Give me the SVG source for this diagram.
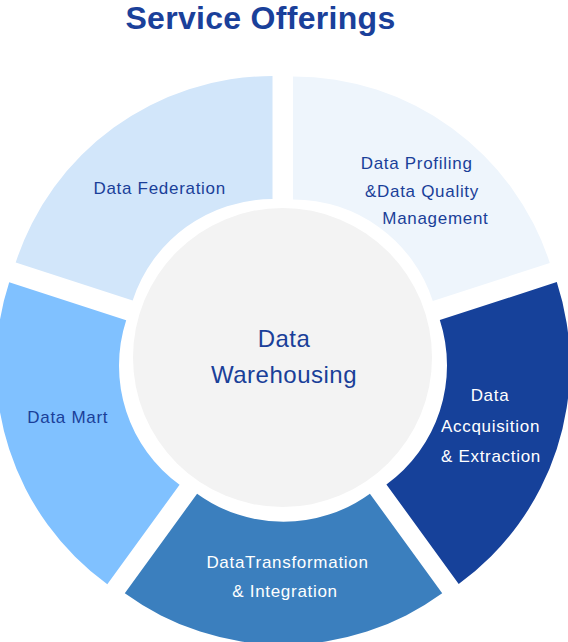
<svg xmlns="http://www.w3.org/2000/svg" width="568" height="642" viewBox="0 0 568 642">
<style>
.lbl{font-family:"Liberation Sans",Arial,sans-serif;font-size:17px;letter-spacing:0.7px}
.dark{fill:#1a3f99}
.light{fill:#ffffff}
.title{font-family:"Liberation Sans",Arial,sans-serif;font-size:32px;font-weight:bold;fill:#1a409a;letter-spacing:0.3px}
.center{font-family:"Liberation Sans",Arial,sans-serif;font-size:24px;letter-spacing:0.5px;fill:#1a3f99}
</style>
<rect width="568" height="642" fill="#ffffff"/>
<text class="title" x="260.5" y="29" text-anchor="middle">Service Offerings</text>
<g id="profiling">
<path d="M293,76.4 A270,270 0 0,1 549.79,262.97 L432.81,300.97 A147,147 0 0,0 293,199.4 Z" fill="#eef5fc"/>
<text class="lbl dark" x="360.7" y="169.3">Data Profiling</text>
<text class="lbl dark" x="365" y="196.7">&amp;Data Quality</text>
<text class="lbl dark" x="382.3" y="224">Management</text>
</g>
<g id="acquisition">
<path d="M556.79,282.07 A270,270 0 0,1 458.70,583.94 L386.41,484.43 A147,147 0 0,0 439.81,320.07 Z" fill="#16419a"/>
<text class="lbl light" x="490" y="400.7" text-anchor="middle">Data</text>
<text class="lbl light" x="490.5" y="431.7" text-anchor="middle">Accquisition</text>
<text class="lbl light" x="491" y="461.7" text-anchor="middle">&amp; Extraction</text>
</g>
<g id="transformation">
<path d="M442.20,593.24 A270,270 0 0,1 124.80,593.24 L197.09,493.73 A147,147 0 0,0 369.91,493.73 Z" fill="#3b7fbe"/>
<text class="lbl light" x="287.5" y="568.3" text-anchor="middle">DataTransformation</text>
<text class="lbl light" x="285" y="596.7" text-anchor="middle">&amp; Integration</text>
</g>
<g id="mart">
<path d="M107.30,584.24 A270,270 0 0,1 9.21,282.37 L126.19,320.37 A147,147 0 0,0 179.59,484.73 Z" fill="#80c1ff"/>
<text class="lbl dark" x="27.3" y="423.3">Data Mart</text>
</g>
<g id="federation">
<path d="M15.71,262.57 A270,270 0 0,1 272.5,76 L272.5,199 A147,147 0 0,0 132.69,300.57 Z" fill="#d2e6fa"/>
<text class="lbl dark" x="159.7" y="194" text-anchor="middle">Data Federation</text>
</g>
<g id="warehousing">
<circle cx="282.5" cy="357.5" r="149.5" fill="#f3f3f3"/>
<text class="center" x="284" y="346.7" text-anchor="middle">Data</text>
<text class="center" x="284" y="382.7" text-anchor="middle">Warehousing</text>
</g>
<g id="connectors"/>
</svg>
